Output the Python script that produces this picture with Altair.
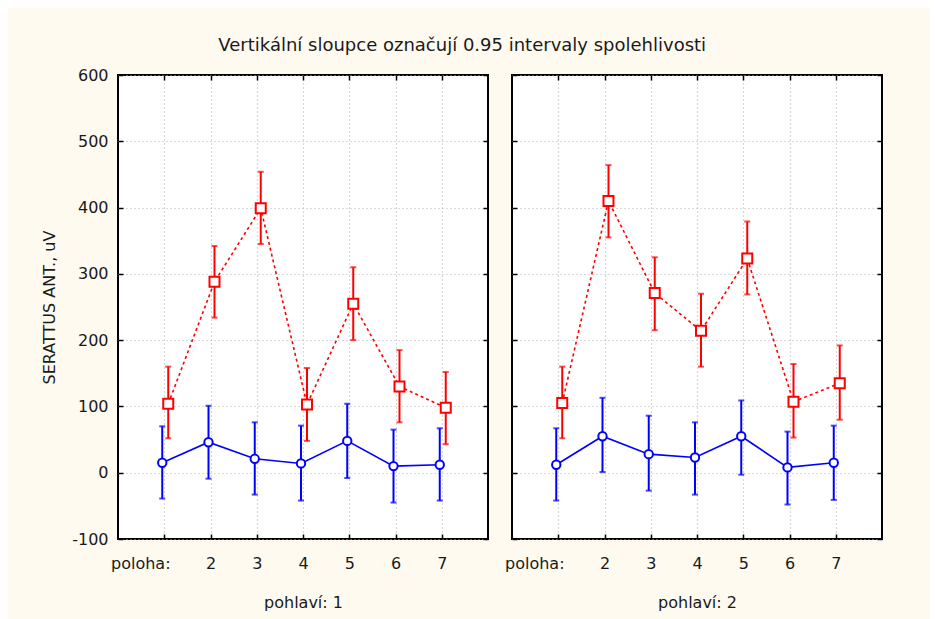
import altair as alt
import pandas as pd

# ---- data ----
positions = [1, 2, 3, 4, 5, 6, 7]
sexes = ["1", "2"]

# red (dashed, squares) series
red_mean_1 = [104, 288, 399, 103, 255, 130, 98]
red_lo_1 = [52, 234, 345, 48, 200, 76, 43]
red_hi_1 = [160, 342, 454, 158, 310, 185, 152]
red_mean_2 = [105, 410, 271, 214, 323, 107, 135]
red_lo_2 = [52, 355, 215, 160, 269, 53, 80]
red_hi_2 = [160, 464, 325, 270, 379, 164, 192]

# blue (solid, circles) series
blue_mean_1 = [15, 46, 21, 14, 48, 10, 12]
blue_lo_1 = [-39, -9, -33, -42, -8, -45, -42]
blue_hi_1 = [70, 101, 76, 71, 104, 65, 67]
blue_mean_2 = [12, 55, 28, 23, 55, 8, 15]
blue_lo_2 = [-42, 1, -27, -33, -3, -48, -41]
blue_hi_2 = [67, 113, 86, 76, 109, 62, 71]

y_ticks = [-100, 0, 100, 200, 300, 400, 500, 600]

title_text = "Vertikální sloupce označují 0.95 intervaly spolehlivosti"
y_title = "SERATTUS ANT., uV"

rows = []
series = {
    ("1", "red"): (red_mean_1, red_lo_1, red_hi_1),
    ("2", "red"): (red_mean_2, red_lo_2, red_hi_2),
    ("1", "blue"): (blue_mean_1, blue_lo_1, blue_hi_1),
    ("2", "blue"): (blue_mean_2, blue_lo_2, blue_hi_2),
}
for (sex, grp), (m, lo, hi) in series.items():
    for p, a, b, c in zip(positions, m, lo, hi):
        rows.append({"poloha": p, "pohlavi": sex, "grp": grp, "mean": a, "lo": b, "hi": c})
df = pd.DataFrame(rows)

FONT = "DejaVu Sans"
TXT = "#1a1a1a"
GRID = "#b4b4b4"

xscale = alt.Scale(domain=[0, 8], nice=False, zero=False)
yscale = alt.Scale(domain=[-100, 600], nice=False, zero=False)


def panel(sex, show_y):
    d = df[df["pohlavi"] == sex]
    base = alt.Chart(d)

    x_main = alt.X(
        "poloha:Q",
        scale=xscale,
        axis=alt.Axis(
            orient="bottom",
            values=positions,
            grid=True,
            gridDash=[1, 3],
            gridColor=GRID,
            gridWidth=1.2,
            domain=False,
            tickSize=5,
            tickColor="black",
            tickWidth=1.5,
            offset=-5,
            labelPadding=16,
            labelExpr="datum.value == 1 ? 'poloha:' : datum.value",
            labelOffset=alt.condition("datum.value == 1", alt.value(-24), alt.value(0)),
            labelFont=FONT,
            labelFontSize=16,
            labelColor=TXT,
            title="pohlaví: " + sex,
            titleFont=FONT,
            titleFontSize=16,
            titleFontWeight="normal",
            titleColor=TXT,
            titlePadding=23,
        ),
    )
    y_main = alt.Y(
        "mean:Q",
        scale=yscale,
        axis=alt.Axis(
            orient="left",
            values=y_ticks,
            grid=True,
            gridDash=[1, 3],
            gridColor=GRID,
            gridWidth=1.2,
            domain=False,
            tickSize=5,
            tickColor="black",
            tickWidth=1.5,
            offset=-5,
            labels=show_y,
            labelExpr="'' + datum.value",
            labelPadding=10,
            labelFont=FONT,
            labelFontSize=16,
            labelColor=TXT,
            title=y_title if show_y else None,
            titleFont=FONT,
            titleFontSize=16,
            titleFontWeight="normal",
            titleColor=TXT,
            titlePadding=14,
        ),
    )
    x_top = alt.X(
        "poloha:Q",
        scale=xscale,
        axis=alt.Axis(
            orient="top", values=positions, grid=False, domain=False, labels=False,
            tickSize=5, tickColor="black", tickWidth=1.5, offset=-5, title=None,
        ),
    )
    y_right = alt.Y(
        "mean:Q",
        scale=yscale,
        axis=alt.Axis(
            orient="right", values=y_ticks, grid=False, domain=False, labels=False,
            tickSize=5, tickColor="black", tickWidth=1.5, offset=-5, title=None,
        ),
    )
    x_n = alt.X("poloha:Q", scale=xscale, axis=None)

    def y_n(f):
        return alt.Y(f, scale=yscale, axis=None)

    layers = []
    for grp, color, off, dash, shape, size, first in [
        ("blue", "#0000ff", -2, None, "circle", 70, True),
        ("red", "#ff0000", 4, [3, 3], "square", 100, False),
    ]:
        g = base.transform_filter(alt.datum.grp == grp)
        line_kw = dict(color=color, strokeWidth=1.6, xOffset=off)
        if dash:
            line_kw["strokeDash"] = dash
        if first:
            line = g.mark_line(**line_kw).encode(x=x_main, y=y_main)
        else:
            line = g.mark_line(**line_kw).encode(x=x_top, y=y_right)
        rule = g.mark_rule(color=color, strokeWidth=2, xOffset=off).encode(
            x=x_n, y=y_n("lo:Q"), y2="hi:Q"
        )
        caps = g.transform_fold(["lo", "hi"], as_=["end", "val"]).mark_tick(
            color=color, orient="horizontal", size=6, thickness=2, xOffset=off
        ).encode(x=x_n, y=y_n("val:Q"))
        pts = g.mark_point(
            shape=shape, size=size, filled=True, fill="white", stroke=color,
            strokeWidth=2, opacity=1, xOffset=off
        ).encode(x=x_n, y=y_n("mean:Q"))
        layers += [line, rule, caps, pts]

    return (
        alt.layer(*layers)
        .resolve_axis(x="independent", y="independent")
        .properties(width=370, height=464)
    )


chart = (
    alt.hconcat(panel("1", True), panel("2", False), spacing=24, bounds="flush")
    .properties(
        title=alt.TitleParams(
            title_text, font=FONT, fontSize=18, fontWeight="normal", color=TXT,
            anchor="middle", offset=11,
        ),
        background="#fefaef",
        padding={"left": 32, "top": 29, "right": 46, "bottom": 10},
    )
    .configure_view(stroke="black", strokeWidth=2, fill="white")
)

chart.save("out.html", embed_options={"renderer": "svg", "actions": False})
